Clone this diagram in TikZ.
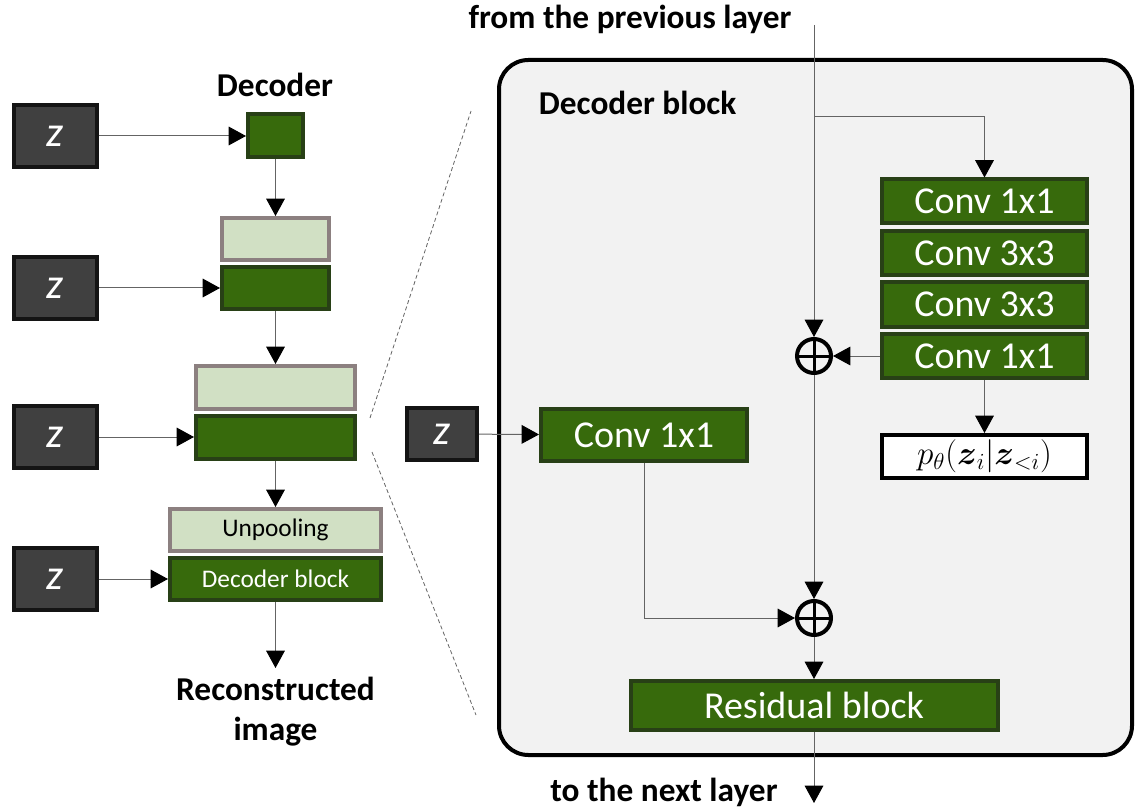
\documentclass[tikz,border=0pt]{standalone}
\usepackage{amsmath}
\usepackage{fontspec}
\setmainfont{Carlito}
\usetikzlibrary{arrows.meta}

\definecolor{dkgreen}{RGB}{55,106,12}
\definecolor{dkgreenedge}{RGB}{40,64,22}
\definecolor{ltgreen}{RGB}{209,224,196}
\definecolor{ltgreenedge}{RGB}{140,128,128}
\definecolor{zfill}{RGB}{64,64,64}
\definecolor{zedge}{RGB}{20,20,20}
\definecolor{blockfill}{RGB}{242,242,242}
\definecolor{wire}{RGB}{100,100,100}

\tikzset{every picture/.style={line width=0.75pt}}
\tikzset{
  zbox/.style={draw=zedge, fill=zfill, line width=3pt, text=white, inner sep=0pt,
    font=\fontsize{32}{32}\selectfont\itshape, minimum width=62.25pt, minimum height=46.5pt},
  gbox/.style={draw=dkgreenedge, fill=dkgreen, line width=3pt, text=white, inner sep=0pt},
  lbox/.style={draw=ltgreenedge, fill=ltgreen, line width=3pt, text=black, inner sep=0pt},
  convbox/.style={gbox, font=\fontsize{28.5}{28.5}\selectfont, minimum width=153.75pt, minimum height=33pt},
  smallfont/.style={font=\fontsize{19}{19}\selectfont},
  title/.style={font=\fontsize{25}{30}\selectfont\bfseries, align=center},
  oplus/.style={circle, draw=black, line width=3pt, minimum size=25.5pt, inner sep=0pt,
    path picture={\draw[line width=2.25pt] (path picture bounding box.north) -- (path picture bounding box.south)
      (path picture bounding box.west) -- (path picture bounding box.east);}},
  wire/.style={draw=wire, line width=0.75pt},
  arr/.style={-{Triangle[length=13pt,width=14pt,color=black]}},
}

\begin{document}
\begin{tikzpicture}[x=0.75pt,y=0.75pt,yscale=-1,xscale=1]
	\useasboundingbox (0,0) rectangle (1135,809);

	%Shape: Rounded Rect [id:blk]
	\draw [line width=3pt, fill=blockfill, rounded corners=22pt] (499,60) rectangle (1132,755);

	%Straight Lines (zoom guides)
	\draw [wire, dashed, dash pattern=on 3pt off 2pt, line width=0.6pt] (370,418) -- (471,111);
	\draw [wire, dashed, dash pattern=on 3pt off 2pt, line width=0.6pt] (372,452) -- (476,715);

	% Decoder column
	\node [title] (dectitle) at (275,85) {Decoder};
	\node [zbox] (z1) at (55,136) {z};
	\node [zbox] (z2) at (55,288) {z};
	\node [zbox] (z3) at (55,437) {z};
	\node [zbox] (z4) at (55,579) {z};

	\node [gbox, minimum width=41.25pt, minimum height=32.25pt] (d1) at (275.5,136) {};
	\node [lbox, minimum width=80.25pt, minimum height=31.5pt] (l2) at (275.5,239) {};
	\node [gbox, minimum width=80.25pt, minimum height=31.5pt] (d2) at (275.5,288) {};
	\node [lbox, minimum width=119.25pt, minimum height=32.25pt] (l3) at (275.5,387.5) {};
	\node [gbox, minimum width=119.25pt, minimum height=32.25pt] (d3) at (275.5,437) {};
	\node [lbox, smallfont, minimum width=158.25pt, minimum height=31.5pt] (unpool) at (275.5,530) {Unpooling};
	\node [gbox, smallfont, minimum width=158.25pt, minimum height=31.5pt] (dblock) at (275.5,579) {Decoder block};
	\coordinate (recontip) at (275.5,668);
	\node [title] (recon) at (275.5,712) {Reconstructed\\image};

	\draw [wire, arr] (z1) -- (d1);
	\draw [wire, arr] (z2) -- (d2);
	\draw [wire, arr] (z3) -- (d3);
	\draw [wire, arr] (z4) -- (dblock);
	\draw [wire, arr] (d1) -- (l2);
	\draw [wire, arr] (d2) -- (l3);
	\draw [wire, arr] (d3) -- (unpool);
	\draw [wire, arr] (dblock) -- (recontip);

	% Decoder block detail
	\node [title] (intitle) at (630,19) {from the previous layer};
	\node [title, anchor=west] (blktitle) at (534,103) {Decoder block};
	\node [title] (outtitle) at (664,792) {to the next layer};

	\node [convbox] (c1) at (984.5,201.5) {Conv 1x1};
	\node [convbox] (c2) at (984.5,253) {Conv 3x3};
	\node [convbox] (c3) at (984.5,304.5) {Conv 3x3};
	\node [convbox] (c4) at (984.5,356) {Conv 1x1};
	\node [draw=black, fill=white, line width=3pt, minimum width=153.75pt, minimum height=32.25pt, inner sep=0pt,
	  font=\fontsize{23}{23}\selectfont] (prior) at (984.5,456.5) {$p_\theta(\boldsymbol{z}_i|\boldsymbol{z}_{<i})$};

	\node [zbox, minimum width=52.5pt, minimum height=39pt] (z5) at (442,434) {z};
	\node [convbox, minimum width=154.5pt, minimum height=39pt] (cz) at (644,435) {Conv 1x1};
	\node [oplus] (plus1) at (814,356) {};
	\node [oplus] (plus2) at (814,618) {};
	\node [convbox, minimum width=275.25pt, minimum height=36.75pt] (res) at (814,705.5) {Residual block};

	\coordinate (top) at (814,25);
	\coordinate (split) at (814,117);
	\coordinate (out) at (814,803);

	\draw [wire, arr] (top) -- (plus1);
	\draw [wire, arr] (split) -| (c1.north);
	\draw [wire, arr] (c4) -- (plus1);
	\draw [wire, arr] (c4) -- (prior);
	\draw [wire, arr] (z5) -- (cz);
	\draw [wire, arr] (plus1) -- (plus2);
	\draw [wire, arr] (cz.south) |- (plus2.west);
	\draw [wire, arr] (plus2) -- (res);
	\draw [wire, arr] (res) -- (out);

\end{tikzpicture}
\end{document}
